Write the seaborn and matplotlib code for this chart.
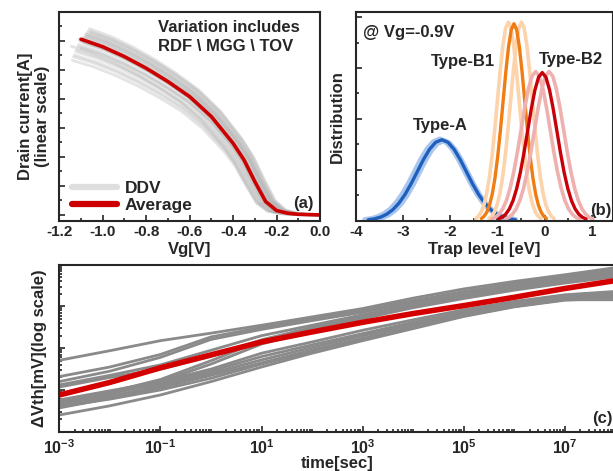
import numpy as np
import pandas as pd
import matplotlib
matplotlib.use("Agg")
import matplotlib.pyplot as plt
import matplotlib.ticker as mticker
from matplotlib.lines import Line2D
import seaborn as sns

sns.set_style("ticks")
plt.rcParams['font.family'] = ['Liberation Sans', 'DejaVu Sans']
plt.rcParams['font.weight'] = 'bold'
plt.rcParams['axes.labelweight'] = 'bold'
plt.rcParams['mathtext.fontset'] = 'custom'
plt.rcParams['mathtext.rm'] = 'Liberation Sans:bold'
plt.rcParams['mathtext.bf'] = 'Liberation Sans:bold'
plt.rcParams['mathtext.default'] = 'bf'

# ---- panel (a): Id-Vg, average curve and DDV spread ----
vg = [-1.1, -1.0, -0.9, -0.8, -0.7, -0.6, -0.5, -0.4, -0.35, -0.3, -0.25, -0.2, -0.15, -0.1, 0.0, 0.06]
id_avg = [6.06, 5.80, 5.46, 5.06, 4.60, 4.08, 3.39, 2.47, 1.90, 1.15, 0.46, 0.15, 0.06, 0.02, 0.0, 0.0]
ddv_scale = [1.06, 1.05, 1.04, 1.03, 1.03, 1.02, 1.01, 1.01, 1.00, 0.99, 0.99, 0.98, 0.97,
             0.96, 0.95, 0.94, 0.93, 0.91, 0.90, 0.88, 1.04, 1.02, 1.00, 0.98, 0.96]
ddv_shift = [0.040, 0.035, 0.030, 0.030, 0.020, 0.025, 0.015, 0.010, 0.005, 0.000, -0.005, 0.010, -0.010,
             -0.015, 0.000, -0.020, -0.025, -0.030, -0.035, -0.040, 0.045, 0.020, -0.010, 0.030, -0.045]
vg_ticks = [-1.2, -1.0, -0.8, -0.6, -0.4, -0.2, 0.0]

# ---- panel (b): trap level distributions ----
bell_z = [-3.0, -2.75, -2.5, -2.25, -2.0, -1.75, -1.5, -1.25, -1.0, -0.75, -0.5, -0.25, 0.0,
          0.25, 0.5, 0.75, 1.0, 1.25, 1.5, 1.75, 2.0, 2.25, 2.5, 2.75, 3.0]
bell_h = [0.0111, 0.0228, 0.0439, 0.0796, 0.1353, 0.2163, 0.3247, 0.4578, 0.6065, 0.7548, 0.8825, 0.9692, 1.0,
          0.9692, 0.8825, 0.7548, 0.6065, 0.4578, 0.3247, 0.2163, 0.1353, 0.0796, 0.0439, 0.0228, 0.0111]
type_a_mu = [-2.22, -2.15, -2.18]
type_a_sig = [0.53, 0.51, 0.52]
type_a_peak = [1.60, 1.57, 1.59]
type_b1_mu = [-0.77, -0.49, -0.65]
type_b1_sig = [0.23, 0.23, 0.23]
type_b1_peak = [3.90, 3.90, 3.87]
type_b2_mu = [-0.19, 0.095, -0.05]
type_b2_sig = [0.31, 0.31, 0.31]
type_b2_peak = [2.93, 2.93, 2.91]

# ---- panel (c): dVth vs stress time (log10 values) ----
log_t = [-3, -2, -1, 0, 1, 2, 3, 4, 5, 6, 7, 8]
dvth_avg = [0.88, 1.18, 1.53, 1.84, 2.15, 2.39, 2.62, 2.83, 3.02, 3.22, 3.43, 3.62]
dvth_ddv = [
    [1.71, 1.94, 2.18, 2.36, 2.55, 2.75, 2.95, 3.20, 3.42, 3.60, 3.76, 3.93],
    [1.32, 1.55, 1.85, 2.27, 2.50, 2.70, 2.90, 3.14, 3.36, 3.55, 3.72, 3.88],
    [1.20, 1.45, 1.78, 2.21, 2.45, 2.66, 2.86, 3.10, 3.32, 3.51, 3.68, 3.84],
    [1.12, 1.35, 1.60, 1.95, 2.30, 2.55, 2.80, 3.05, 3.27, 3.47, 3.64, 3.79],
    [1.07, 1.30, 1.50, 1.80, 2.20, 2.50, 2.77, 3.02, 3.24, 3.44, 3.61, 3.76],
    [0.72, 0.95, 1.25, 1.70, 2.18, 2.48, 2.74, 3.00, 3.22, 3.42, 3.59, 3.74],
    [0.65, 0.90, 1.20, 1.62, 2.10, 2.42, 2.71, 2.97, 3.19, 3.39, 3.56, 3.71],
    [0.76, 0.98, 1.20, 1.50, 1.88, 2.15, 2.43, 2.68, 2.92, 3.12, 3.28, 3.36],
    [0.70, 0.92, 1.15, 1.45, 1.80, 2.08, 2.35, 2.62, 2.87, 3.08, 3.24, 3.32],
    [0.62, 0.85, 1.10, 1.40, 1.72, 2.02, 2.30, 2.57, 2.83, 3.05, 3.21, 3.28],
    [0.57, 0.80, 1.05, 1.35, 1.65, 1.96, 2.24, 2.52, 2.80, 3.02, 3.18, 3.24],
    [0.40, 0.62, 0.88, 1.20, 1.55, 1.88, 2.18, 2.47, 2.76, 2.99, 3.15, 3.20],
    [0.60, 0.78, 1.00, 1.28, 1.62, 1.92, 2.20, 2.49, 2.78, 3.00, 3.16, 3.16],
]
t_ticks = [1e-3, 1e-1, 1e1, 1e3, 1e5, 1e7]
t_labels = [r"$\mathbf{10^{-3}}$", r"$\mathbf{10^{-1}}$", r"$\mathbf{10^{1}}$",
            r"$\mathbf{10^{3}}$", r"$\mathbf{10^{5}}$", r"$\mathbf{10^{7}}$"]

W, H = 613, 471
fig = plt.figure(figsize=(W / 100, H / 100), dpi=100)


def box(l, t, r, b):
    return [l / W, 1 - b / H, (r - l) / W, (b - t) / H]


ax_a = fig.add_axes(box(59.3, 12, 320, 220.7))
ax_b = fig.add_axes(box(356, 12, 612.5, 220.7))
ax_c = fig.add_axes(box(59.3, 264.7, 615.5, 431.7))

for ax in (ax_a, ax_b, ax_c):
    for s in ax.spines.values():
        s.set_linewidth(1.5)
        s.set_visible(True)
    ax.tick_params(which='both', direction='in', width=1.2, labelsize=11, pad=3)
    ax.tick_params(which='major', length=4)
    ax.tick_params(which='minor', length=2)

FS = 12

# (a)
vg_arr = np.array(vg)
id_arr = np.array(id_avg)
rows = []
for i, (k, dv) in enumerate(zip(ddv_scale, ddv_shift)):
    for x, y in zip(vg_arr + dv, id_arr * k):
        rows.append((i, x, y))
df_a = pd.DataFrame(rows, columns=['dev', 'vg', 'id'])
sns.lineplot(data=df_a, x='vg', y='id', units='dev', estimator=None,
             color='#b4b4b4', alpha=0.35, lw=2, ax=ax_a, legend=False)
sns.lineplot(x=vg, y=id_avg, color='#cc0000', lw=2.6, ax=ax_a, sort=False)
ax_a.set_xlim(-1.2, 0.0)
ax_a.set_ylim(-0.2, 7.0)
ax_a.set_xticks(vg_ticks)
ax_a.xaxis.set_major_formatter(mticker.FormatStrFormatter('%.1f'))
ax_a.xaxis.set_minor_locator(mticker.MultipleLocator(0.1))
ax_a.set_yticks(range(0, 8))
ax_a.yaxis.set_minor_locator(mticker.MultipleLocator(0.5))
ax_a.set_yticklabels([])
ax_a.set_xlabel("Vg[V]", fontsize=FS, labelpad=2)
ax_a.set_ylabel("Drain current[A]\n(linear scale)", fontsize=FS, labelpad=4, linespacing=1.1)
ax_a.text(0.38, 0.96, "Variation includes\nRDF \\ MGG \\ TOV", transform=ax_a.transAxes,
          ha='left', va='top', fontsize=FS, fontweight='bold', linespacing=1.3)
ax_a.text(0.935, 0.082, "(a)", transform=ax_a.transAxes, ha='center', va='center',
          fontsize=FS, fontweight='bold')
handles = [Line2D([], [], color='#dedede', lw=4.5), Line2D([], [], color='#cc0000', lw=4.5)]
ax_a.legend(handles, ["DDV", "Average"], loc='lower left', bbox_to_anchor=(-0.01, -0.04),
            frameon=False, handlelength=2.6, handletextpad=0.4, labelspacing=0.15,
            prop={'weight': 'bold', 'size': 12.5})

# (b)
z = np.array(bell_z)
h = np.array(bell_h)
groups = [
    (type_a_mu, type_a_sig, type_a_peak, '#a9c6ec', '#1f5fbf', 4.0),
    (type_b1_mu, type_b1_sig, type_b1_peak, '#fdd3ab', '#f07d14', 2.6),
    (type_b2_mu, type_b2_sig, type_b2_peak, '#efb0b0', '#c8000a', 2.6),
]
for mus, sigs, peaks, light, dark, lw_light in groups:
    for j in range(3):
        col = dark if j == 2 else light
        lw = 2.4 if j == 2 else lw_light
        sns.lineplot(x=mus[j] + z * sigs[j], y=peaks[j] * h, color=col, lw=lw,
                     ax=ax_b, sort=False)
ax_b.set_xlim(-4, 1.44)
ax_b.set_ylim(0, 4.1)
ax_b.xaxis.set_major_locator(mticker.MultipleLocator(1))
ax_b.xaxis.set_major_formatter(mticker.FormatStrFormatter('%d'))
ax_b.xaxis.set_minor_locator(mticker.MultipleLocator(0.5))
ax_b.set_yticks(range(0, 5))
ax_b.yaxis.set_minor_locator(mticker.MultipleLocator(0.5))
ax_b.set_yticklabels([])
ax_b.set_xlabel("Trap level [eV]", fontsize=FS, labelpad=2)
ax_b.set_ylabel("Distribution", fontsize=FS, labelpad=5)
ax_b.text(0.027, 0.9, "@ Vg=-0.9V", transform=ax_b.transAxes, ha='left', va='center', fontsize=FS)
ax_b.text(0.417, 0.762, "Type-B1", transform=ax_b.transAxes, ha='center', va='center', fontsize=FS)
ax_b.text(0.837, 0.773, "Type-B2", transform=ax_b.transAxes, ha='center', va='center', fontsize=FS)
ax_b.text(0.3275, 0.454, "Type-A", transform=ax_b.transAxes, ha='center', va='center', fontsize=FS)
ax_b.text(0.955, 0.051, "(b)", transform=ax_b.transAxes, ha='center', va='center', fontsize=FS)

# (c)
t = 10.0 ** np.array(log_t)
rows = []
for i, curve in enumerate(dvth_ddv):
    for x, y in zip(t, curve):
        rows.append((i, x, 10.0 ** (y - 1)))
df_c = pd.DataFrame(rows, columns=['dev', 't', 'dv'])
sns.lineplot(data=df_c, x='t', y='dv', units='dev', estimator=None,
             color='#8a8a8a', lw=2.0, ax=ax_c, legend=False)
sns.lineplot(x=t, y=10.0 ** (np.array(dvth_avg) - 1), color='#d40000', lw=4, ax=ax_c)
ax_c.set_xscale('log')
ax_c.set_yscale('log')
ax_c.set_xlim(1e-3, 1e8)
ax_c.set_ylim(1e-1, 1e3)
ax_c.set_xticks(t_ticks)
ax_c.set_xticklabels(t_labels, fontsize=11.5)
ax_c.tick_params(axis='x', pad=5)
ax_c.xaxis.set_minor_locator(mticker.LogLocator(base=10, subs=np.arange(1, 10), numticks=100))
ax_c.xaxis.set_minor_formatter(mticker.NullFormatter())
ax_c.yaxis.set_major_locator(mticker.LogLocator(base=10, numticks=10))
ax_c.yaxis.set_minor_locator(mticker.LogLocator(base=10, subs=np.arange(2, 10), numticks=100))
ax_c.yaxis.set_major_formatter(mticker.NullFormatter())
ax_c.yaxis.set_minor_formatter(mticker.NullFormatter())
ax_c.set_xlabel("time[sec]", fontsize=FS, labelpad=-1)
ax_c.set_ylabel("ΔVth[mV](log scale)", fontsize=FS, labelpad=6)
ax_c.text(0.9765, 0.082, "(c)", transform=ax_c.transAxes, ha='center', va='center', fontsize=FS)

fig.savefig("out.png", dpi=100)
